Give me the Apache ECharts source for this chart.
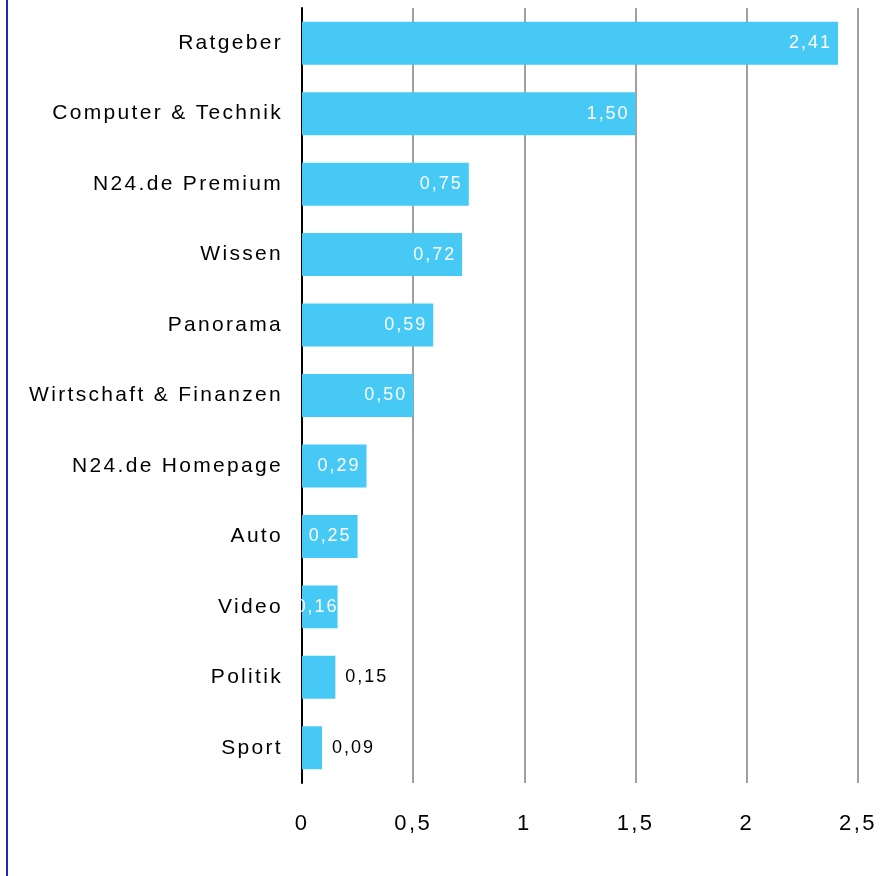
<!DOCTYPE html>
<html><head><meta charset="utf-8">
<script src="https://cdn.jsdelivr.net/npm/echarts@6/dist/echarts.min.js"></script>
<style>html,body{margin:0;padding:0;background:#fff}#c{width:890px;height:876px}
#bl{position:absolute;left:6px;top:0;width:2px;height:876px;background:#1a2db0}</style>
</head><body><div id="c"></div><div id="bl"></div>
<script>
const categories = ['Ratgeber','Computer & Technik','N24.de Premium','Wissen','Panorama','Wirtschaft & Finanzen','N24.de Homepage','Auto','Video','Politik','Sport'];
const values = [2.41,1.50,0.75,0.72,0.59,0.50,0.29,0.25,0.16,0.15,0.09];
const outsideLabels = ['Politik','Sport'];
const tickLabels = ['0','0,5','1','1,5','2','2,5'];

// the reference text is drawn with slightly widened letter spacing
(function () {
  const proto = CanvasRenderingContext2D.prototype;
  const orig = proto.fillText;
  proto.fillText = function (t, x, y, m) {
    const mm = /(\d+(?:\.\d+)?)px/.exec(this.font);
    if (mm && 'letterSpacing' in this) this.letterSpacing = (parseFloat(mm[1]) * 0.11).toFixed(2) + 'px';
    return m === undefined ? orig.call(this, t, x, y) : orig.call(this, t, x, y, m);
  };
})();

const fmt = v => v.toFixed(2).replace('.', ',');
const data = values.map((v, i) => {
  const cat = categories[i];
  const out = outsideLabels.includes(cat);
  return {
    value: v,
    label: out ? {position: 'right', color: '#000', distance: 10}
               : {position: 'insideRight', color: '#fff', distance: cat === 'Video' ? -1 : 6}
  };
});

const FONT = 'Liberation Sans, Arial, sans-serif';
const chart = echarts.init(document.getElementById('c'));
chart.setOption({
  animation: false,
  grid: {left: 302, right: 32, top: 8, bottom: 93, containLabel: false},
  xAxis: {
    type: 'value', min: 0, max: 2.5, interval: 0.5,
    axisLine: {show: false}, axisTick: {show: false},
    splitLine: {lineStyle: {color: '#a0a0a0', width: 2}},
    axisLabel: {margin: 30, fontSize: 22, color: '#000', fontFamily: FONT,
      formatter: v => tickLabels[Math.round(v / 0.5)]}
  },
  yAxis: {
    type: 'category', data: categories, inverse: true,
    axisLine: {lineStyle: {color: '#000', width: 2}}, axisTick: {show: false},
    axisLabel: {margin: 19, fontSize: 21, color: '#000', fontFamily: FONT}
  },
  series: [{
    type: 'bar', data: data, barWidth: '61%',
    itemStyle: {color: '#47c9f5'},
    label: {show: true, fontSize: 18, fontFamily: FONT, formatter: p => fmt(p.value)}
  }]
});
</script></body></html>
